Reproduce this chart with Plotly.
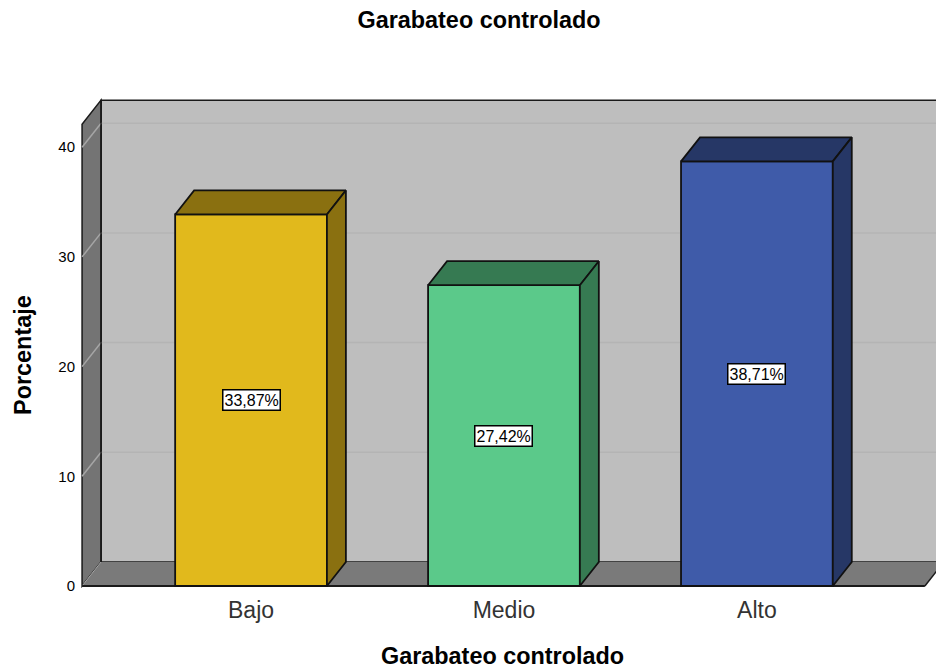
import plotly.graph_objects as go

CATEGORIES = ["Bajo", "Medio", "Alto"]
VALUES = [33.87, 27.42, 38.71]
VALUE_LABELS = ["33,87%", "27,42%", "38,71%"]
Y_TICKS = [0, 10, 20, 30, 40]

FRONT_COLORS = ["#E1B91C", "#5BC98A", "#3F5BA9"]
SIDE_COLORS = ["#8A7010", "#367A52", "#263766"]

FONT = "Liberation Sans"
BAR_WIDTH = 0.6

# fake 3D box, depth of the extrusion in axis units
DEPTH_X = 0.075
DEPTH_Y = 2.19
LEFT = -0.668
RIGHT = 2.664
TOP = 42.1


def _poly(points, fill, line="#1a1a1a", width=1.5):
    path = "M " + " L ".join(f"{x} {y}" for x, y in points) + " Z"
    return dict(
        type="path",
        path=path,
        xref="x",
        yref="y",
        fillcolor=fill,
        line=dict(color=line, width=width),
        layer="below",
    )


def _line(x0, y0, x1, y1, color, width=1.5):
    return dict(
        type="line",
        x0=x0,
        y0=y0,
        x1=x1,
        y1=y1,
        xref="x",
        yref="y",
        line=dict(color=color, width=width),
        layer="below",
    )


def _box_shapes():
    bx, by = LEFT + DEPTH_X, DEPTH_Y
    far = RIGHT + 0.3
    shapes = [
        _poly([(bx, by), (bx, TOP + by), (far, TOP + by), (far, by)], "#BEBEBE"),
        _poly([(LEFT, 0), (LEFT, TOP), (bx, TOP + by), (bx, by)], "#747474"),
        _poly([(LEFT, 0), (bx, by), (RIGHT + DEPTH_X, by), (RIGHT, 0)], "#7A7A7A", line="#7A7A7A", width=0),
    ]
    for t in Y_TICKS[1:]:
        shapes.append(_line(bx, t + by, far, t + by, "#B4B4B4"))
        shapes.append(_line(LEFT, t, bx, t + by, "#A6A6A6"))
    shapes.append(_line(LEFT, 0, bx, by, "#A6A6A6", 1))
    shapes.append(_line(bx, by, bx, TOP + by, "#1a1a1a"))
    shapes.append(_line(LEFT, 0, RIGHT, 0, "#1a1a1a", 2))
    shapes.append(_line(RIGHT, 0, RIGHT + DEPTH_X, by, "#1a1a1a"))
    return shapes


fig = go.Figure()

fig.add_trace(
    go.Bar(
        x=list(range(len(CATEGORIES))),
        y=VALUES,
        width=BAR_WIDTH,
        marker=dict(color=FRONT_COLORS, line=dict(color="#111111", width=1.8)),
        hoverinfo="skip",
        showlegend=False,
    )
)

# top and side faces of each bar
for i, value in enumerate(VALUES):
    x0 = i - BAR_WIDTH / 2
    x1 = i + BAR_WIDTH / 2
    top_xs = [x0, x0 + DEPTH_X, x1 + DEPTH_X, x1, x0]
    top_ys = [value, value + DEPTH_Y, value + DEPTH_Y, value, value]
    side_xs = [x1, x1 + DEPTH_X, x1 + DEPTH_X, x1, x1]
    side_ys = [0, DEPTH_Y, value + DEPTH_Y, value, 0]
    for xs, ys in ((top_xs, top_ys), (side_xs, side_ys)):
        fig.add_trace(
            go.Scatter(
                x=xs,
                y=ys,
                mode="lines",
                fill="toself",
                fillcolor=SIDE_COLORS[i],
                line=dict(color="#111111", width=1.8),
                hoverinfo="skip",
                showlegend=False,
            )
        )

for i, value in enumerate(VALUES):
    fig.add_annotation(
        x=i,
        y=value / 2,
        text=VALUE_LABELS[i],
        showarrow=False,
        font=dict(family=FONT, size=16, color="#000000"),
        bgcolor="#FFFFFF",
        bordercolor="#000000",
        borderwidth=1.5,
        borderpad=1,
    )

for text, x, y, angle in (
    ("Porcentaje", -0.0616, 0.475, -90),
    ("Garabateo controlado", 0.4965, -0.133, 0),
):
    fig.add_annotation(
        xref="paper",
        yref="paper",
        x=x,
        y=y,
        xanchor="center",
        yanchor="middle",
        text=f"<b>{text}</b>",
        textangle=angle,
        showarrow=False,
        font=dict(family=FONT, size=23.4, color="#000000"),
    )

fig.update_layout(
    width=936,
    height=669,
    margin=dict(l=76, r=0, t=95, b=79, pad=0),
    paper_bgcolor="white",
    plot_bgcolor="white",
    shapes=_box_shapes(),
    title=dict(
        text="<b>Garabateo controlado</b>",
        x=479 / 936,
        xanchor="center",
        y=1 - 20 / 669,
        yanchor="middle",
        font=dict(family=FONT, size=23.4, color="#000000"),
    ),
)
fig.update_xaxes(
    range=[-0.692, 2.708],
    tickvals=list(range(len(CATEGORIES))),
    ticktext=CATEGORIES,
    tickfont=dict(family=FONT, size=23, color="#333333"),
    ticklabelstandoff=4,
    showgrid=False,
    zeroline=False,
    showline=False,
)
fig.update_yaxes(
    range=[-0.365, 44.76],
    tickvals=Y_TICKS,
    tickfont=dict(family=FONT, size=15, color="#000000"),
    showgrid=False,
    zeroline=False,
    showline=False,
)

# the default page body margin would clip the right edge of the chart
fig.write_html(
    "out.html",
    config={"displayModeBar": False},
    post_script="document.body.style.margin = '0';",
)
